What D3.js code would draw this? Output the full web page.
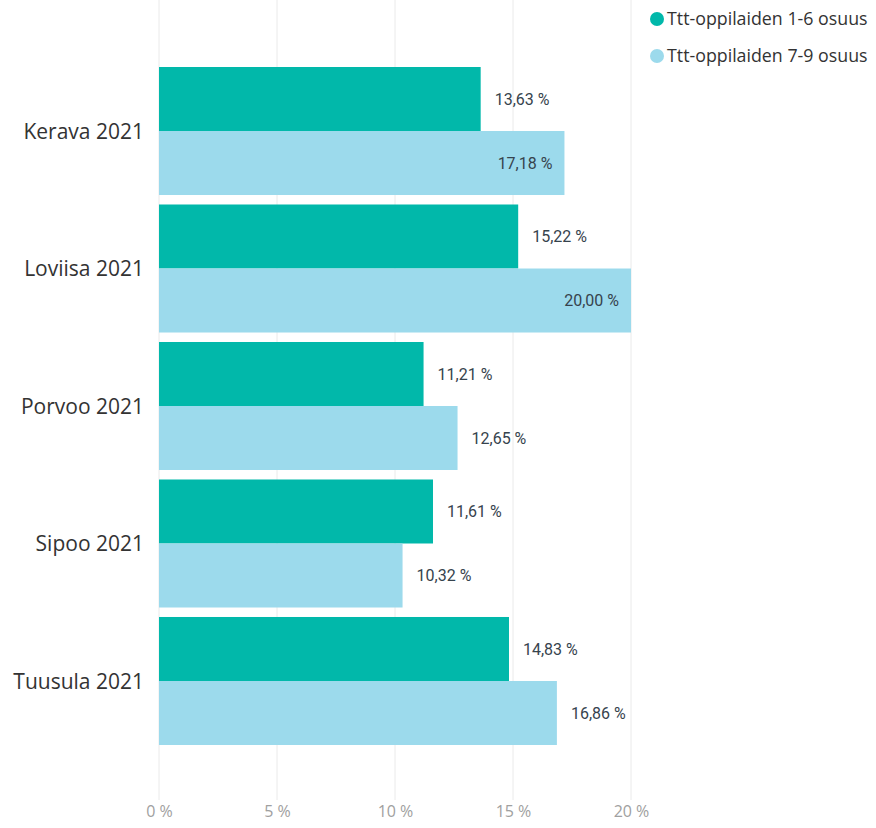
<!DOCTYPE html>
<html><head><meta charset="utf-8">
<script src="https://cdn.jsdelivr.net/npm/d3@7"></script>
<style>
body{margin:0;background:#fff;}
svg{display:block;}
</style></head>
<body>
<svg id="chart" width="876" height="828"></svg>
<script>
const categories = ["Kerava 2021","Loviisa 2021","Porvoo 2021","Sipoo 2021","Tuusula 2021"];
const seriesNames = ["Ttt-oppilaiden 1-6 osuus","Ttt-oppilaiden 7-9 osuus"];
const values16 = [13.63,15.22,11.21,11.61,14.83];
const values79 = [17.18,20.00,12.65,10.32,16.86];
const xTicks = [0,5,10,15,20];
const colors = ["#01B8AA","#9CDAEC"];

const svg = d3.select("#chart");
const x = d3.scaleLinear().domain([0,20]).range([159,631]);
const y = d3.scaleBand().domain(categories).range([67,745]).paddingInner(0.069).paddingOuter(0);
const ySub = d3.scaleBand().domain([0,1]).range([0,y.bandwidth()]);

// gridlines
svg.append("g").selectAll("line").data(xTicks).join("line")
  .attr("x1",d=>x(d)).attr("x2",d=>x(d)).attr("y1",0).attr("y2",800)
  .attr("stroke","#EAEAEA").attr("stroke-width",1);

// x axis labels
const xAxis = d3.axisBottom(x).tickValues(xTicks).tickSize(0).tickPadding(0).tickFormat(d=>d+" %");
const gx = svg.append("g").attr("transform","translate(0,806)").call(xAxis);
gx.select(".domain").remove();
gx.selectAll("text").attr("fill","#A0A0A0").attr("font-size","16px").attr("font-family","'Open Sans',sans-serif");

// y axis labels
const yAxis = d3.axisLeft(y).tickSize(0).tickPadding(15);
const gy = svg.append("g").attr("transform","translate(159,0)").call(yAxis);
gy.select(".domain").remove();
gy.selectAll("text").attr("fill","#333").attr("font-size","21px").attr("font-family","'Open Sans',sans-serif").attr("dy","0.36em");

const rows = categories.map((c,i)=>({cat:c, vals:[values16[i],values79[i]]}));
const groups = svg.append("g").selectAll("g").data(rows).join("g")
  .attr("transform",d=>`translate(0,${y(d.cat)})`);

groups.selectAll("rect").data(d=>d.vals.map((v,k)=>({v,k}))).join("rect")
  .attr("x",x(0)).attr("y",d=>ySub(d.k)).attr("height",ySub.bandwidth())
  .attr("width",d=>x(d.v)-x(0)).attr("fill",d=>colors[d.k]);

groups.selectAll("text.val").data(d=>d.vals.map((v,k)=>({v,k}))).join("text")
  .attr("class","val")
  .attr("y",d=>ySub(d.k)+ySub.bandwidth()/2)
  .attr("dy","0.35em")
  .attr("font-size","16px")
  .attr("font-family","'Roboto',sans-serif")
  .attr("fill","#36434d")
  .text(d=>d.v.toFixed(2).replace(".",",")+" %")
  .each(function(d){
    const w = this.getComputedTextLength();
    const end = x(d.v);
    if (end + 14 + w <= x(20)) {
      d3.select(this).attr("x", end+14).attr("text-anchor","start");
    } else {
      d3.select(this).attr("x", end-12).attr("text-anchor","end");
    }
  });

// legend
const legend = svg.append("g");
seriesNames.forEach((s,i)=>{
  const yy = 19 + i*37;
  legend.append("circle").attr("cx",657).attr("cy",yy).attr("r",7).attr("fill",colors[i]);
  legend.append("text").attr("x",667).attr("y",yy).attr("dy","0.35em")
    .attr("font-size","17.8px").attr("font-family","'Open Sans',sans-serif").attr("fill","#333").text(s);
});
</script>
</body></html>
